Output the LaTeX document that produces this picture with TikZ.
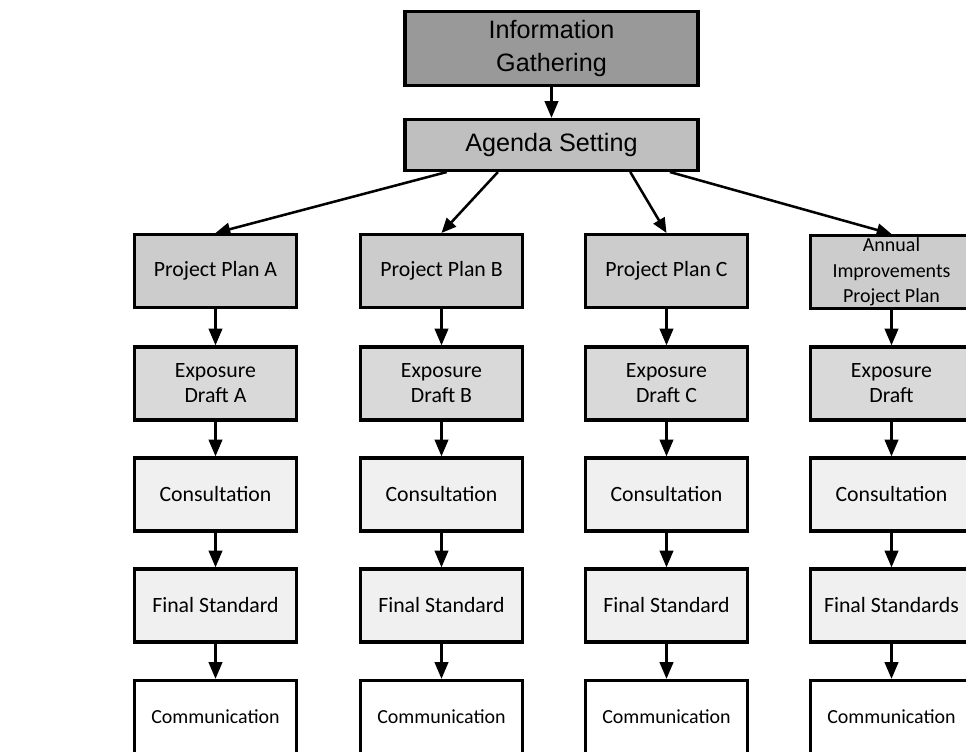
\documentclass[tikz,border=0pt]{standalone}
\usepackage{fontspec}
\setmainfont{Carlito}
\newfontfamily\arialfont{Liberation Sans}
\usetikzlibrary{arrows.meta, calc}
\tikzset{
  box/.style={draw=black, line width=2.3pt, rectangle, inner sep=0pt, align=center,
    minimum width=4.05cm, minimum height=1.82cm, font=\fontsize{15.5}{17.8}\selectfont},
  smallbox/.style={box, font=\fontsize{14.2}{18.2}\selectfont},
  topbox/.style={box, minimum width=7.32cm, font=\arialfont\fontsize{17.9}{23}\selectfont},
  arr/.style={-{Triangle[length=12pt,width=9.5pt]}, line width=2.1pt},
  diag/.style={-{Triangle[length=10.5pt,width=9pt]}, line width=1.8pt},
}

\begin{document}
\begin{tikzpicture}[x=0.025cm, y=-0.025cm]
  % Fixed frame (pixels of the original page)
  \path[use as bounding box] (0,0) rectangle (966,751);
  \clip (0,0) rectangle (966,751);

  % Fills, dark to light.
  \colorlet{infocol}{black!40}
  \colorlet{agendacol}{black!25}
  \colorlet{plancol}{black!20}
  \colorlet{draftcol}{black!15}
  \colorlet{conscol}{black!6}

  % Top of the process.
  \node[topbox, fill=infocol, minimum height=1.85cm] (info) at (551.5,48.5) {Information\\Gathering};
  \node[topbox, fill=agendacol, minimum height=1.27cm] (agenda) at (551.5,145) {Agenda Setting};

  % Project plans.
  \node[box, fill=plancol] (planA) at (215.5,271) {Project Plan A};
  \node[box, fill=plancol] (planB) at (441.5,271) {Project Plan B};
  \node[box, fill=plancol] (planC) at (666.5,271) {Project Plan C};
  \node[smallbox, fill=plancol] (planD) at (891.5,272) {Annual\\Improvements\\Project Plan};

  % Exposure drafts.
  \node[box, fill=draftcol] (draftA) at (215.5,383.5) {Exposure\\Draft A};
  \node[box, fill=draftcol] (draftB) at (441.5,383.5) {Exposure\\Draft B};
  \node[box, fill=draftcol] (draftC) at (666.5,383.5) {Exposure\\Draft C};
  \node[box, fill=draftcol] (draftD) at (891.5,383.5) {Exposure\\Draft};

  % Consultation, final standard, communication.
  \foreach \c/\x in {A/215.5, B/441.5, C/666.5, D/891.5} {
    \node[box, fill=conscol] (cons\c) at (\x,494.5) {Consultation};
    \node[smallbox, fill=white] (comm\c) at (\x,717) {Communication};
  }
  \node[box, fill=conscol] (finalA) at (215.5,605.5) {Final Standard};
  \node[box, fill=conscol] (finalB) at (441.5,605.5) {Final Standard};
  \node[box, fill=conscol] (finalC) at (666.5,605.5) {Final Standard};
  \node[box, fill=conscol] (finalD) at (891.5,605.5) {Final Standards};

  % Arrows.
  \draw[arr] (info) -- (agenda);
  \draw[diag] ($(agenda.south west)!0.146!(agenda.south east)$) -- (planA.north);
  \draw[diag] ($(agenda.south west)!0.319!(agenda.south east)$) -- (planB.north);
  \draw[diag] ($(agenda.south west)!0.766!(agenda.south east)$) -- (planC.north);
  \draw[diag] ($(agenda.south west)!0.900!(agenda.south east)$) -- (planD.north);
  \foreach \c in {A,B,C,D} {
    \draw[arr] (plan\c) -- (draft\c);
    \draw[arr] (draft\c) -- (cons\c);
    \draw[arr] (cons\c) -- (final\c);
    \draw[arr] (final\c) -- (comm\c);
  }
\end{tikzpicture}
\end{document}
